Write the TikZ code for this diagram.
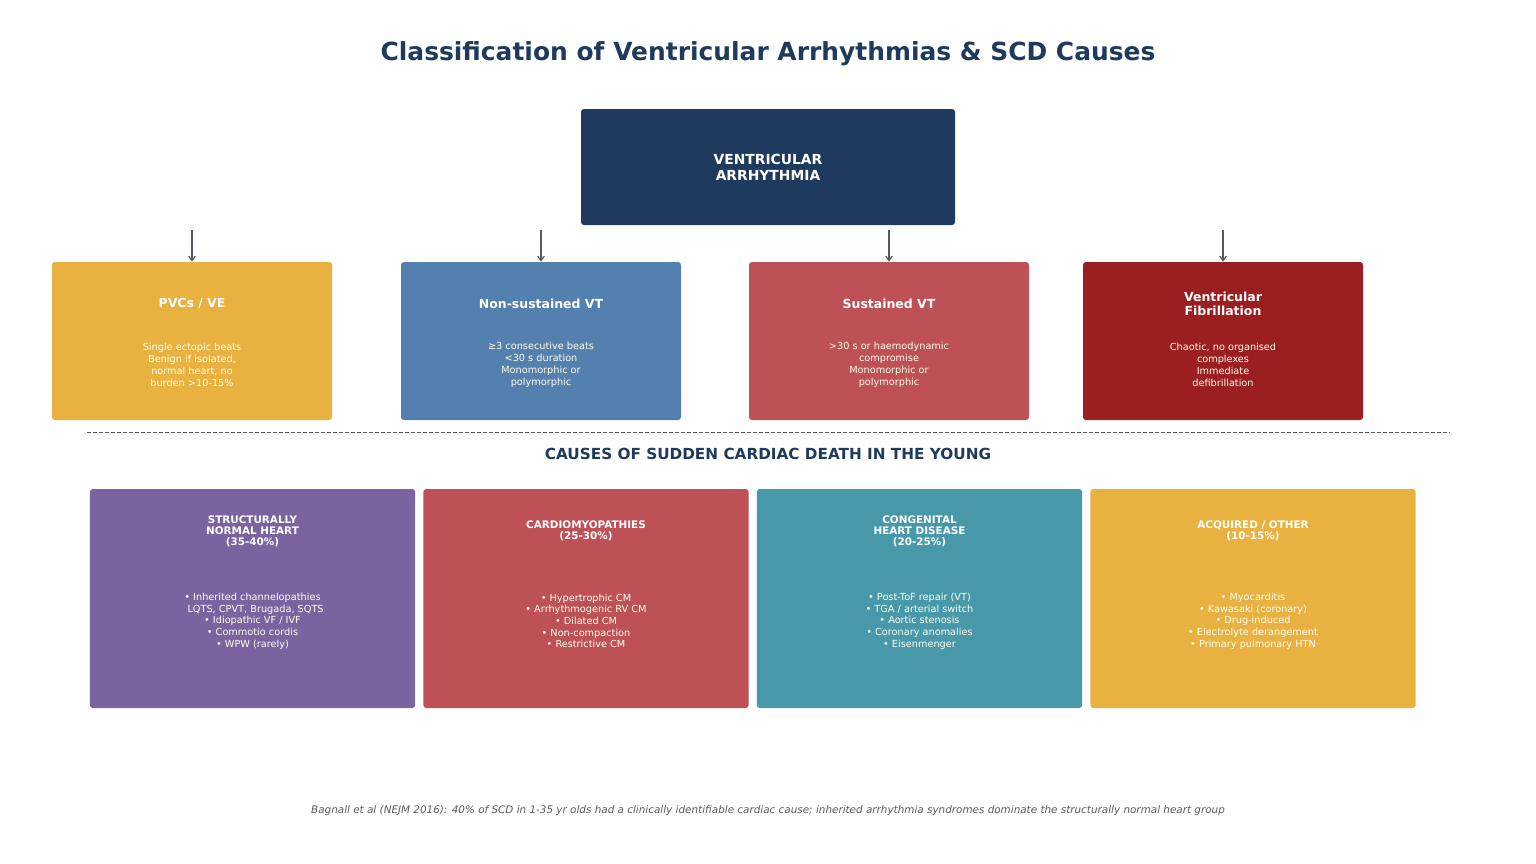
\documentclass[tikz,border=0pt]{standalone}
\usepackage{fontspec}
\setmainfont{DejaVu Sans}
\usetikzlibrary{arrows.meta}
\definecolor{navy}{HTML}{1E3A5C}
\definecolor{topbox}{HTML}{1E3A5F}
\definecolor{gold}{HTML}{E9B140}
\definecolor{steel}{HTML}{5480B0}
\definecolor{rose}{HTML}{BD5155}
\definecolor{crimson}{HTML}{9B1F20}
\definecolor{violet}{HTML}{7B63A0}
\definecolor{teal}{HTML}{4799A9}
\definecolor{arrowgray}{HTML}{555A60}
\definecolor{notegray}{HTML}{5A5A5A}
\begin{document}
\begin{tikzpicture}[x=0.75pt,y=-0.75pt,
  box/.style={rounded corners=2.2pt, inner sep=0pt, draw=none},
  midbox/.style={box, minimum width=210pt, minimum height=118.5pt},
  lowbox/.style={box, minimum width=244pt, minimum height=164.25pt},
  midtitle/.style={text=white, align=center, inner sep=0pt, font=\bfseries\fontsize{9.35}{10.5}\selectfont},
  midbody/.style={text=white!92!yellow, align=center, inner sep=0pt, font=\fontsize{7.3}{9}\selectfont},
  lowtitle/.style={text=white, align=center, inner sep=0pt, font=\bfseries\fontsize{7.8}{8.3}\selectfont},
  lowbody/.style={text=white!94!yellow, align=center, inner sep=0pt, font=\fontsize{7.3}{8.75}\selectfont},
  arr/.style={draw=arrowgray, line width=0.9pt, -{Straight Barb[length=3.5pt,width=5pt]}}
]
\useasboundingbox (0,0) rectangle (1536,864);

\node[text=navy, font=\bfseries\fontsize{18.7}{22}\selectfont, inner sep=0pt] (title) at (768,54) {Classification of Ventricular Arrhythmias \& SCD Causes};

% top box
\node[box, fill=topbox, minimum width=280.5pt, minimum height=87pt] (va) at (768,167) {};
\node[text=white, align=center, inner sep=0pt, font=\bfseries\fontsize{10.4}{12}\selectfont] (vat) at (768,167) {VENTRICULAR\\ARRHYTHMIA};

% middle boxes
\node[midbox, fill=gold] (pvc) at (192,341) {};
\node[midbox, fill=steel] (nsvt) at (541,341) {};
\node[midbox, fill=rose] (svt) at (889,341) {};
\node[midbox, fill=crimson] (vf) at (1223,341) {};

\node[midtitle] (pvct) at (192,303.5) {PVCs / VE};
\node[midbody] (pvcb) at (192,364.5) {Single ectopic beats\\Benign if isolated,\\normal heart, no\\burden >10-15\%};
\node[midtitle] (nsvtt) at (541,303.5) {Non-sustained VT};
\node[midbody] (nsvtb) at (541,364.5) {≥3 consecutive beats\\<30 s duration\\Monomorphic or\\polymorphic};
\node[midtitle] (svtt) at (889,303.5) {Sustained VT};
\node[midbody] (svtb) at (889,364.5) {>30 s or haemodynamic\\compromise\\Monomorphic or\\polymorphic};
\node[midtitle] (vft) at (1223,303.5) {Ventricular\\Fibrillation};
\node[midbody] (vfb) at (1223,364.5) {Chaotic, no organised\\complexes\\Immediate\\defibrillation};

% arrows
\coordinate (a1) at (192,230);
\coordinate (a2) at (541,230);
\coordinate (a3) at (889,230);
\coordinate (a4) at (1223,230);
\draw[arr] (a1) -- (pvc.north);
\draw[arr] (a2) -- (nsvt.north);
\draw[arr] (a3) -- (svt.north);
\draw[arr] (a4) -- (vf.north);

% separator
\coordinate (s1) at (87,432);
\coordinate (s2) at (1450,432);
\draw[arrowgray, line width=0.6pt, dash pattern=on 3pt off 1.5pt] (s1) -- (s2);

\node[text=navy, font=\bfseries\fontsize{11.45}{13}\selectfont, inner sep=0pt] (causes) at (768,454) {CAUSES OF SUDDEN CARDIAC DEATH IN THE YOUNG};

% lower boxes
\node[lowbox, fill=violet] (snh) at (252.5,598.5) {};
\node[lowbox, fill=rose] (cm) at (586,598.5) {};
\node[lowbox, fill=teal] (chd) at (919.5,598.5) {};
\node[lowbox, fill=gold] (acq) at (1253,598.5) {};

\node[lowtitle] (snht) at (252.5,531) {STRUCTURALLY\\NORMAL HEART\\(35-40\%)};
\node[lowbody] (snhb) at (252.5,621) {• Inherited channelopathies\\\ \ LQTS, CPVT, Brugada, SQTS\\• Idiopathic VF / IVF\\• Commotio cordis\\• WPW (rarely)};
\node[lowtitle] (cmt) at (586,531) {CARDIOMYOPATHIES\\(25-30\%)};
\node[lowbody] (cmb) at (586,621) {• Hypertrophic CM\\• Arrhythmogenic RV CM\\• Dilated CM\\• Non-compaction\\• Restrictive CM};
\node[lowtitle] (chdt) at (919.5,531) {CONGENITAL\\HEART DISEASE\\(20-25\%)};
\node[lowbody] (chdb) at (919.5,621) {• Post-ToF repair (VT)\\• TGA / arterial switch\\• Aortic stenosis\\• Coronary anomalies\\• Eisenmenger};
\node[lowtitle] (acqt) at (1253,531) {ACQUIRED / OTHER\\(10-15\%)};
\node[lowbody] (acqb) at (1253,621) {• Myocarditis\\• Kawasaki (coronary)\\• Drug-induced\\• Electrolyte derangement\\• Primary pulmonary HTN};

\node[text=notegray, font=\itshape\fontsize{7.8}{9}\selectfont, inner sep=0pt] (note) at (768,811) {Bagnall et al (NEJM 2016): 40\% of SCD in 1-35 yr olds had a clinically identifiable cardiac cause; inherited arrhythmia syndromes dominate the structurally normal heart group};
\end{tikzpicture}
\end{document}
